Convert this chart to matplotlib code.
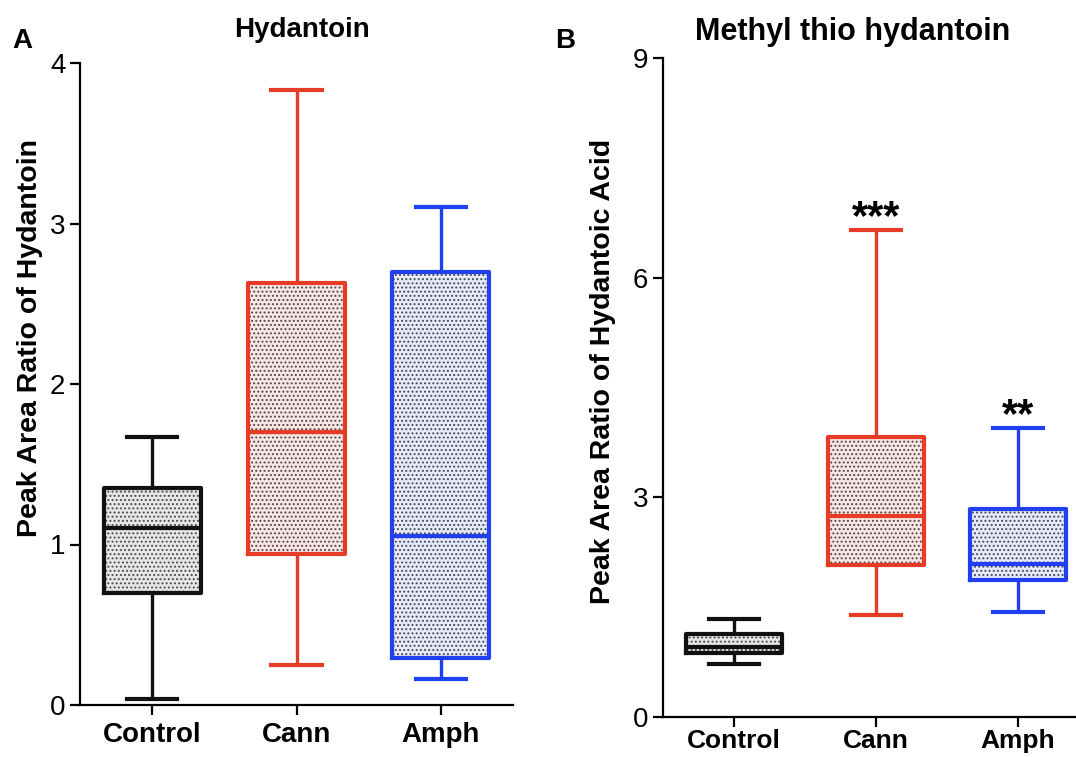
import matplotlib
matplotlib.use("Agg")
import matplotlib.pyplot as plt

plt.rcParams['font.family'] = ['Liberation Sans', 'DejaVu Sans']
plt.rcParams['hatch.linewidth'] = 0.9

groups = ['Control', 'Cann', 'Amph']
edge_colors = ['#111111', '#e63c26', '#1f3ff0']
fill_colors = ['#e6e6e6', '#fbe4e4', '#e6e8fb']

# five-number summaries: whisker low, Q1, median, Q3, whisker high
hyd_lo = [0.04, 0.25, 0.16]
hyd_q1 = [0.70, 0.94, 0.29]
hyd_med = [1.10, 1.70, 1.05]
hyd_q3 = [1.35, 2.63, 2.70]
hyd_hi = [1.67, 3.83, 3.10]

mth_lo = [0.72, 1.39, 1.43]
mth_q1 = [0.87, 2.08, 1.87]
mth_med = [0.96, 2.75, 2.09]
mth_q3 = [1.13, 3.83, 2.84]
mth_hi = [1.34, 6.65, 3.95]

mth_stars = ['', '***', '**']


def make_stats(lo, q1, med, q3, hi):
    return [dict(whislo=a, q1=b, med=c, q3=d, whishi=e, fliers=[])
            for a, b, c, d, e in zip(lo, q1, med, q3, hi)]


def draw_boxes(ax, stats):
    for i, st in enumerate(stats):
        # dotted fill first, then the outline on top
        ax.bxp([st], positions=[i], widths=0.67, patch_artist=True,
               showcaps=False, manage_ticks=False,
               boxprops=dict(facecolor=fill_colors[i], edgecolor='#4a4a4a',
                             linewidth=0, hatch='....'),
               whiskerprops=dict(linewidth=0), medianprops=dict(linewidth=0))
        ax.bxp([st], positions=[i], widths=0.67, capwidths=0.35, manage_ticks=False,
               boxprops=dict(color=edge_colors[i], linewidth=3.0),
               whiskerprops=dict(color=edge_colors[i], linewidth=2.4, solid_capstyle='butt'),
               capprops=dict(color=edge_colors[i], linewidth=3.0),
               medianprops=dict(color=edge_colors[i], linewidth=3.0))


def style_axis(ax, ymax, step, xpad=5, xsize=20):
    ax.set_xlim(-0.5, 2.5)
    ax.set_ylim(0, ymax)
    ax.set_yticks(range(0, ymax + 1, step))
    ax.set_xticks(range(len(groups)))
    ax.set_xticklabels(groups)
    for s in ('top', 'right'):
        ax.spines[s].set_visible(False)
    for s in ('left', 'bottom'):
        ax.spines[s].set_linewidth(1.6)
    ax.tick_params(axis='both', width=1.6, length=7, labelsize=20)
    ax.tick_params(axis='x', pad=xpad, labelsize=xsize)
    for lab in ax.get_xticklabels():
        lab.set_fontweight('bold')


fig = plt.figure(figsize=(10.76, 7.57), dpi=100)
W, H = 1076.0, 757.0

ax1 = fig.add_axes([80 / W, (H - 705) / H, 433 / W, 642 / H])
draw_boxes(ax1, make_stats(hyd_lo, hyd_q1, hyd_med, hyd_q3, hyd_hi))
style_axis(ax1, 4, 1)

ax2 = fig.add_axes([663 / W, (H - 717) / H, 426 / W, 659 / H])
draw_boxes(ax2, make_stats(mth_lo, mth_q1, mth_med, mth_q3, mth_hi))
style_axis(ax2, 9, 3, xpad=1.5, xsize=19)
for i, star in enumerate(mth_stars):
    if star:
        ax2.annotate(star, xy=(i, mth_hi[i]), xytext=(0, -6), textcoords='offset points',
                     ha='center', va='bottom', fontsize=30, fontweight='bold')

fig.text(302 / W, 1 - 30 / H, 'Hydantoin', ha='center', va='center',
         fontsize=20, fontweight='bold')
fig.text(853 / W, 1 - 32 / H, 'Methyl thio hydantoin', ha='center', va='center',
         fontsize=22, fontweight='bold')
fig.text(22 / W, 1 - 41 / H, 'A', ha='center', va='center', fontsize=20, fontweight='bold')
fig.text(565 / W, 1 - 41 / H, 'B', ha='center', va='center', fontsize=20, fontweight='bold')
fig.text(30 / W, 1 - 338 / H, 'Peak Area Ratio of Hydantoin', rotation=90,
         ha='center', va='center', fontsize=20.5, fontweight='bold')
fig.text(603 / W, 1 - 371 / H, 'Peak Area Ratio of Hydantoic Acid', rotation=90,
         ha='center', va='center', fontsize=20.5, fontweight='bold')

fig.savefig('out.png', dpi=100)
